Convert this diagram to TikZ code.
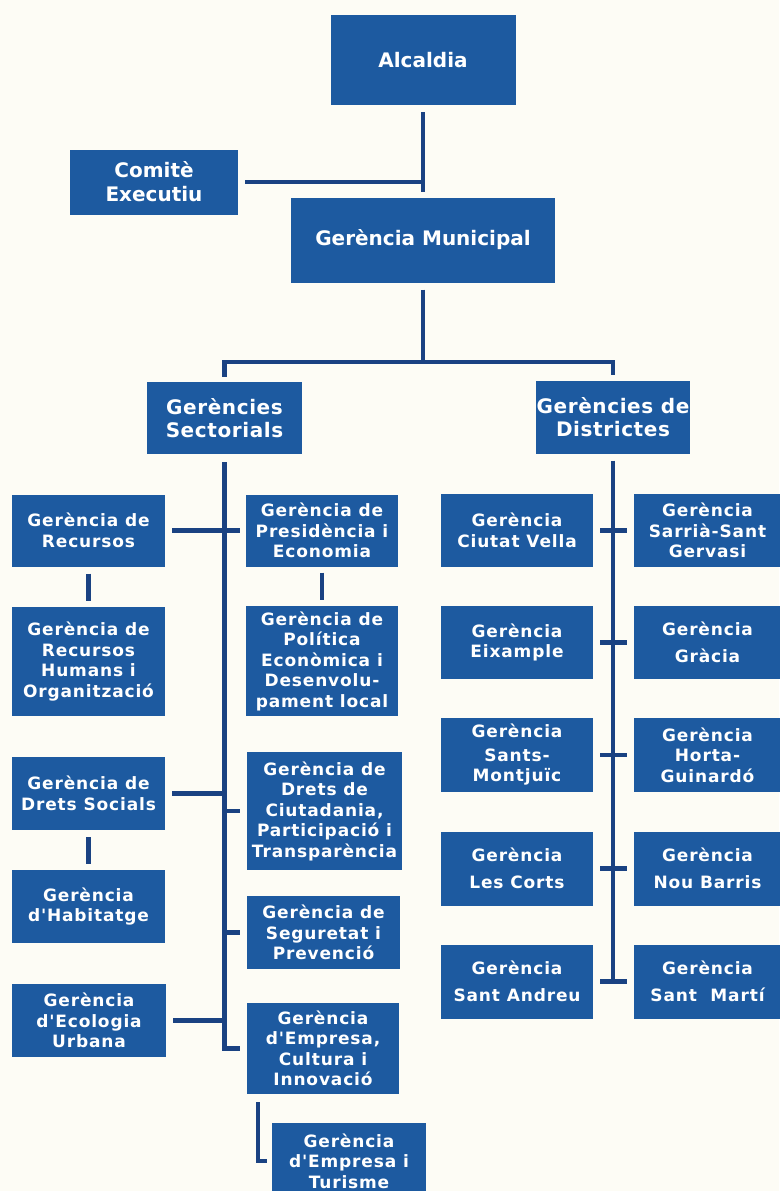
\documentclass[tikz,border=0pt]{standalone}
\usepackage{fontspec}
\usepackage{xcolor}
\usepackage{tikz}
\newfontfamily\topfont{DejaVu Sans}
\newfontfamily\headfont[LetterSpace=3]{DejaVu Sans}
\newfontfamily\boxfont[LetterSpace=5]{DejaVu Sans}
\definecolor{boxblue}{HTML}{1D5AA0}
\definecolor{linkblue}{HTML}{1A4282}
\definecolor{paper}{HTML}{FDFCF5}

\begin{document}
\begin{tikzpicture}[x=1pt,y=-1pt,
    unitbox/.style={fill=boxblue,text=white,align=center,inner sep=0pt},
    topbox/.style={unitbox,font=\topfont\bfseries\fontsize{20}{24}\selectfont},
    headbox/.style={unitbox,font=\headfont\bfseries\fontsize{20}{23}\selectfont},
    subbox/.style={unitbox,font=\boxfont\bfseries\fontsize{17}{20.5}\selectfont},
    wh/.style 2 args={minimum width=#1pt,minimum height=#2pt},
    link/.style={draw=linkblue,line width=4.5pt},
    gaps/.style={shorten <=#1,shorten >=#1}]
    % page
    \useasboundingbox (0,0) rectangle (779,1191);
    \fill[paper] (0,0) rectangle (779,1191);

    % top of the chart
    \node[topbox,wh={185}{90}] (alc) at (423,60) {Alcaldia};
    \node[topbox,wh={168}{65}] (com) at (154,182) {Comitè\\Executiu};
    \node[topbox,wh={264}{85}] (gm) at (423,240) {Gerència Municipal};
    \node[headbox,wh={155}{72}] (sec) at (224.5,418) {Gerències\\Sectorials};
    \node[headbox,wh={154}{73}] (dis) at (613,417) {Gerències de\\Districtes};
    \coordinate (split) at (423,362);

    % sectorial managements
    \node[subbox,wh={153}{72}] (rec) at (88.5,530.5) {Gerència de\\Recursos};
    \node[subbox,wh={152}{72}] (pres) at (322,530.5) {Gerència de\\Presidència i\\Economia};
    \node[subbox,wh={153}{109}] (rho) at (88.5,661.5) {Gerència de\\Recursos\\Humans i\\Organització};
    \node[subbox,wh={152}{110}] (pol) at (322,661) {Gerència de\\Política\\Econòmica i\\Desenvolu-\\pament local};
    \node[subbox,wh={153}{73}] (dso) at (88.5,793.5) {Gerència de\\Drets Socials};
    \node[subbox,wh={155}{118}] (dci) at (324.5,811) {Gerència de\\Drets de\\Ciutadania,\\Participació i\\Transparència};
    \node[subbox,wh={153}{73}] (hab) at (88.5,906.5) {Gerència\\d'Habitatge};
    \node[subbox,wh={153}{73}] (seg) at (323.5,932.5) {Gerència de\\Seguretat i\\Prevenció};
    \node[subbox,wh={154}{73}] (eco) at (89,1020.5) {Gerència\\d'Ecologia\\Urbana};
    \node[subbox,wh={152}{91}] (emp) at (323,1048.5) {Gerència\\d'Empresa,\\Cultura i\\Innovació};
    \node[subbox,wh={154}{76}] (tur) at (349,1161) {Gerència\\d'Empresa i\\Turisme};
    \coordinate (tk) at (258,1094);

    % district managements
    \node[subbox,wh={152}{73}] (cv) at (517,530.5) {Gerència\\Ciutat Vella};
    \node[subbox,wh={147}{73}] (sar) at (707.5,530.5) {Gerència\\Sarrià-Sant\\Gervasi};
    \node[subbox,wh={152}{73}] (eix) at (517,642.5) {Gerència\\Eixample};
    \node[subbox,wh={147}{73}] (gra) at (707.5,642.5) {Gerència\\[7pt]Gràcia};
    \node[subbox,wh={152}{74}] (san) at (517,755) {Gerència\\[3pt]Sants-\\Montjuïc};
    \node[subbox,wh={147}{74}] (hor) at (707.5,755) {Gerència\\Horta-\\Guinardó};
    \node[subbox,wh={152}{74}] (lco) at (517,868.5) {Gerència\\[7pt]Les Corts};
    \node[subbox,wh={147}{74}] (nou) at (707.5,868.5) {Gerència\\[7pt]Nou Barris};
    \node[subbox,wh={152}{74}] (sad) at (517,981.5) {Gerència\\[7pt]Sant Andreu};
    \node[subbox,wh={147}{74}] (sma) at (707.5,981.5) {Gerència\\[7pt]Sant\ \ Martí};

    % connectors
    \draw[link,shorten <=7pt,shorten >=5pt] (alc) -- (gm);
    \draw[link,shorten <=7pt] (com) -- (com -| alc);
    \draw[link,shorten <=7pt] (gm) -- (split);
    \draw[link,gaps=5pt] (sec) |- (split) -| (dis);
    \draw[link,shorten <=8pt,shorten >=7pt] (sec) |- (emp);
    \draw[link,shorten <=7pt,shorten >=6pt] (rec) -- (pres);
    \draw[link,shorten <=7pt,shorten >=6pt] (rec) -- (rho);
    \draw[link,shorten <=6pt,shorten >=6pt] (pres) -- (pol);
    \draw[link,shorten <=7pt,shorten >=6pt] (dso) -- (hab);
    \foreach \n in {dso,eco}
    \draw[link,shorten <=7pt] (\n) -- (\n -| sec);
    \foreach \n in {dci,seg}
    \draw[link,shorten >=7pt] (\n -| sec) -- (\n);
    \draw[link,shorten <=8pt,shorten >=5pt] (tk) |- (tur);
    \draw[link,shorten <=7pt] (dis) -- (dis |- sad);
    \foreach \l/\r in {cv/sar,eix/gra,san/hor,lco/nou,sad/sma}
    \draw[link,gaps=7pt] (\l) -- (\r);
\end{tikzpicture}
\end{document}
